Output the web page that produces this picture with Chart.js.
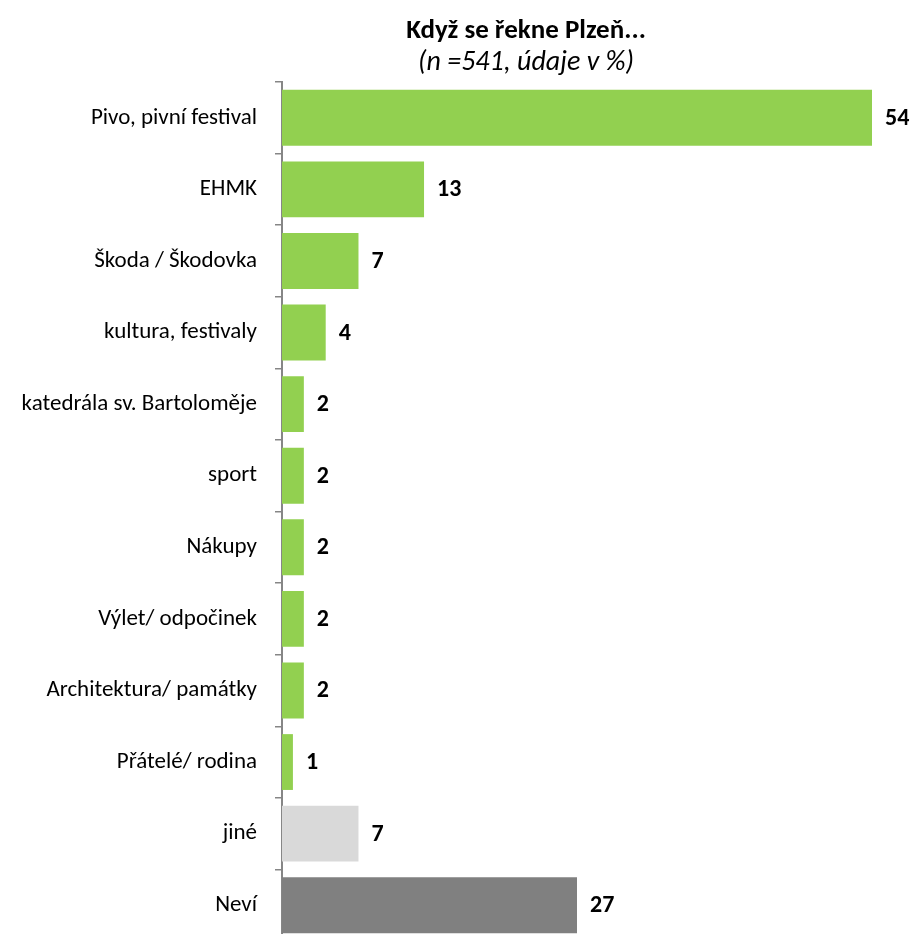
<!DOCTYPE html>
<html>
<head>
<meta charset="utf-8">
<title>Když se řekne Plzeň...</title>
<script src="https://cdn.jsdelivr.net/npm/chart.js@4.4.0/dist/chart.umd.min.js"></script>
<style>
  html, body { margin: 0; padding: 0; background: #ffffff; overflow: hidden; }
  canvas { display: block; }
</style>
</head>
<body>
<canvas id="chart" width="914" height="941"></canvas>
<script>
// Survey answers: "Když se řekne Plzeň..." (n = 541, %)
const categories = [
  'Pivo, pivní festival',
  'EHMK',
  'Škoda / Škodovka',
  'kultura, festivaly',
  'katedrála sv. Bartoloměje',
  'sport',
  'Nákupy',
  'Výlet/ odpočinek',
  'Architektura/ památky',
  'Přátelé/ rodina',
  'jiné',
  'Neví'
];
const values = [54, 13, 7, 4, 2, 2, 2, 2, 2, 1, 7, 27];

const titleText = 'Když se řekne Plzeň...';
const subtitleText = '(n =541, údaje v %)';

// Colours: named answers green, "jiné" light grey, "Neví" dark grey
const GREEN = '#92D050';
const LIGHT_GREY = '#D9D9D9';
const DARK_GREY = '#808080';
const barColors = categories.map(c => c === 'jiné' ? LIGHT_GREY : (c === 'Neví' ? DARK_GREY : GREEN));

const FONT = 'Carlito, Calibri, Lato, "Open Sans", sans-serif';
const AXIS_GREY = '#868686';

// Value printed just right of each bar end
const valueLabels = {
  id: 'valueLabels',
  afterDatasetsDraw(chart) {
    const ctx = chart.ctx;
    const meta = chart.getDatasetMeta(0);
    const data = chart.data.datasets[0].data;
    ctx.save();
    ctx.font = 'bold 24px ' + FONT;
    ctx.fillStyle = '#000000';
    ctx.textAlign = 'left';
    ctx.textBaseline = 'middle';
    meta.data.forEach((bar, i) => {
      ctx.fillText(String(data[i]), bar.x + 13, bar.y + 1);
    });
    ctx.restore();
  }
};

// Two-line heading centred above the plot
const heading = {
  id: 'heading',
  afterDraw(chart) {
    const ctx = chart.ctx;
    ctx.save();
    ctx.fillStyle = '#000000';
    ctx.textAlign = 'center';
    ctx.textBaseline = 'middle';
    ctx.font = 'bold 27px ' + FONT;
    ctx.fillText(titleText, 526, 31);
    ctx.font = 'italic 28px ' + FONT;
    ctx.fillText(subtitleText, 526, 63);
    ctx.restore();
  }
};

new Chart(document.getElementById('chart'), {
  type: 'bar',
  data: {
    labels: categories,
    datasets: [{
      data: values,
      backgroundColor: barColors,
      borderWidth: 0,
      barPercentage: 0.78,
      categoryPercentage: 1.0
    }]
  },
  options: {
    indexAxis: 'y',
    responsive: false,
    animation: false,
    layout: { padding: { top: 82, right: 42, bottom: 0, left: 0 } },
    plugins: {
      legend: { display: false },
      title: { display: false },
      tooltip: { enabled: false }
    },
    scales: {
      x: {
        display: false,
        min: 0,
        max: 54
      },
      y: {
        grid: {
          display: true,
          drawOnChartArea: false,
          drawTicks: true,
          tickLength: 7,
          color: AXIS_GREY,
          lineWidth: 1.5
        },
        border: { display: true, color: AXIS_GREY, width: 2 },
        ticks: {
          color: '#000000',
          font: { family: FONT, size: 23 },
          padding: 18
        },
        // fixed axis width; the category band runs to the canvas bottom
        afterFit(scale) {
          scale.width = 282;
          scale.paddingTop = 0;
          scale.paddingBottom = 0;
        }
      }
    }
  },
  plugins: [valueLabels, heading]
});
</script>
</body>
</html>
